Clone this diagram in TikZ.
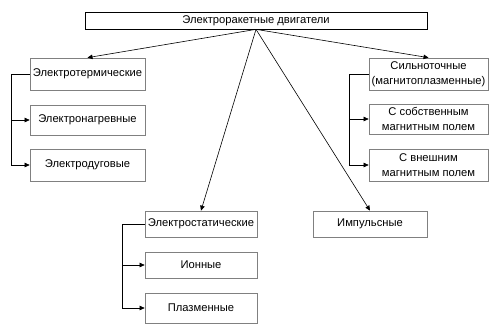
\documentclass[tikz,border=0pt]{standalone}
\usepackage{fontspec}
\setmainfont{Liberation Sans}
\usetikzlibrary{arrows.meta,positioning}
\definecolor{frame}{HTML}{808080}
\tikzset{
  every node/.style={font=\fontsize{11.2}{15}\selectfont,text=black},
  arr/.style={-{Triangle[length=5pt,width=4.5pt]},line width=.6pt,draw=black},
  link/.style={line width=.6pt,draw=black},
  kind/.style={draw=frame,line width=.7pt,fill=white,align=center,inner sep=1pt},
  rootbox/.style={draw=black,line width=.7pt,fill=white,minimum width=342pt,minimum height=17pt,inner sep=1pt}
}

\begin{document}
\begin{tikzpicture}[x=1pt,y=-1pt]
  \path[use as bounding box,fill=white] (0,0) rectangle (500,335);
  \node[rootbox] (root) at (256,20.5) {Электроракетные двигатели};

  % left group
  \node[kind,minimum width=115pt,minimum height=32pt] (thermo) at (87.5,74) {Электротермические};
  \node[kind,minimum width=115pt,minimum height=30pt] (heat) at (87.5,120) {Электронагревные};
  \node[kind,minimum width=115pt,minimum height=32pt] (arc) at (87.5,165) {Электродуговые};
  \draw[arr] (thermo.west) -- ++(-18,0) |- (heat.west);
  \draw[arr] (thermo.west) -- ++(-18,0) |- (arc.west);

  % right group
  \node[kind,minimum width=119pt,minimum height=32pt] (strong) at (428.5,74) {Сильноточные\\(магнитоплазменные)};
  \node[kind,minimum width=119pt,minimum height=30pt] (own) at (428.5,119) {С собственным\\магнитным полем};
  \node[kind,minimum width=119pt,minimum height=32pt] (outer) at (428.5,165) {С внешним\\магнитным полем};
  \draw[arr] (strong.west) -- ++(-19,0) |- (own.west);
  \draw[arr] (strong.west) -- ++(-19,0) |- (outer.west);

  % bottom group
  \node[kind,minimum width=112pt,minimum height=26pt] (static) at (201,224) {Электростатические};
  \node[kind,minimum width=112pt,minimum height=26pt] (ion) at (201,265) {Ионные};
  \node[kind,minimum width=112pt,minimum height=30pt] (plasma) at (201,308) {Плазменные};
  \draw[arr] (static.west) -- ++(-22,0) |- (ion.west);
  \draw[arr] (static.west) -- ++(-22,0) |- (plasma.west);

  \node[kind,minimum width=114pt,minimum height=26pt] (pulse) at (370,224) {Импульсные};

  \foreach \n in {thermo,strong,static,pulse} {\draw[arr] (root.south) -- (\n.north);}
\end{tikzpicture}
\end{document}
